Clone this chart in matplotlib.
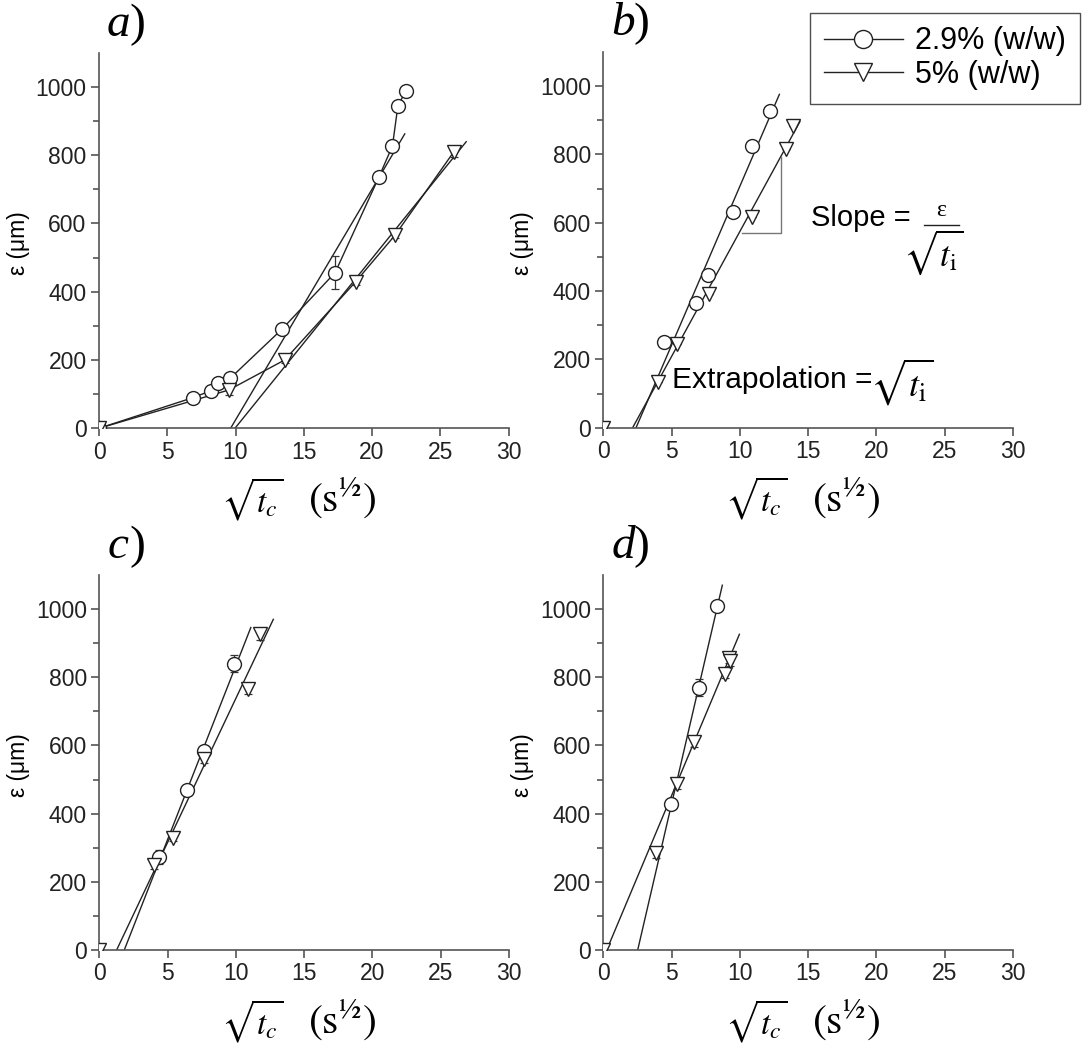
import numpy as np
import matplotlib
matplotlib.use("Agg")
import matplotlib.pyplot as plt
from matplotlib.lines import Line2D

plt.rcParams['font.family'] = ['Liberation Sans', 'DejaVu Sans']
plt.rcParams['mathtext.fontset'] = 'stix'

W, H = 1092, 1053

# ---------------- data ----------------
# panel a
a_c_x = [0.0, 6.9, 8.2, 8.7, 9.6, 13.4, 17.3, 20.5, 21.5, 21.9, 22.5]
a_c_y = [0, 90, 110, 132, 146, 290, 456, 735, 827, 945, 989]
a_c_e = [0, 0, 0, 0, 0, 0, 48, 10, 12, 0, 0]
a_t_x = [0.0, 9.5, 13.6, 18.8, 21.7, 26.0]
a_t_y = [0, 112, 200, 429, 566, 810]
a_t_e = [0, 14, 10, 10, 10, 15]
a_fit_c_x = [9.64, 22.4]
a_fit_c_y = [0, 862]
a_fit_t_x = [9.96, 26.9]
a_fit_t_y = [0, 839]

# panel b
b_c_x = [4.45, 6.8, 7.7, 9.5, 10.9, 12.2]
b_c_y = [252, 366, 448, 633, 825, 928]
b_c_e = [12, 8, 14, 0, 0, 14]
b_t_x = [4.0, 5.4, 7.77, 10.9, 13.4, 13.9]
b_t_y = [135, 245, 391, 616, 815, 883]
b_t_e = [0, 0, 0, 0, 0, 0]
b_fit_c_x = [2.4, 12.9]
b_fit_c_y = [0, 976]
b_fit_t_x = [2.15, 14.4]
b_fit_t_y = [0, 896]
b_slope_x = [10.15, 13.03, 13.03]
b_slope_y = [571, 571, 793]

# panel c
c_c_x = [4.4, 6.4, 7.7, 9.9]
c_c_y = [273, 470, 584, 840]
c_c_e = [20, 0, 12, 25]
c_t_x = [4.0, 5.4, 7.7, 10.9, 11.8]
c_t_y = [249, 330, 559, 767, 926]
c_t_e = [10, 10, 10, 15, 18]
c_fit_c_x = [1.83, 11.1]
c_fit_c_y = [0, 946]
c_fit_t_x = [1.27, 12.75]
c_fit_t_y = [0, 970]

# panel d
d_c_x = [4.96, 7.04, 8.3]
d_c_y = [428, 770, 1010]
d_c_e = [10, 25, 10]
d_t_x = [3.86, 5.43, 6.68, 8.95, 9.2, 9.3]
d_t_y = [285, 487, 611, 809, 857, 848]
d_t_e = [15, 15, 15, 12, 15, 15]
d_fit_c_x = [2.52, 8.72]
d_fit_c_y = [0, 1070]
d_fit_t_x = [0.25, 9.97]
d_fit_t_y = [0, 926]

x_ticks = [0, 5, 10, 15, 20, 25, 30]
y_ticks = [0, 200, 400, 600, 800, 1000]
panel_labels = ['a', 'b', 'c', 'd']
legend_labels = ['2.9% (w/w)', '5% (w/w)']

# ---------------- figure ----------------
fig = plt.figure(figsize=(W / 100, H / 100), dpi=100)

def rect(l, r, b, t):
    return [l / W, 1 - b / H, (r - l) / W, (b - t) / H]

axes_px = [(99, 508.5, 428.3, 52.6), (603.3, 1012.8, 427.7, 52.0),
           (99.3, 508.8, 950, 575), (603.3, 1012.8, 950, 575)]

spine_col = '#555555'
axs = []
for (l, r, b, t) in axes_px:
    ax = fig.add_axes(rect(l, r, b, t))
    ax.set_xlim(0, 30)
    ax.set_ylim(0, 1100)
    ax.set_xticks(x_ticks)
    ax.set_yticks(y_ticks)
    ax.set_yticks(np.arange(100, 1100, 200), minor=True)
    for s in ['top', 'right']:
        ax.spines[s].set_visible(False)
    for s in ['left', 'bottom']:
        ax.spines[s].set_color(spine_col)
        ax.spines[s].set_linewidth(1.2)
    ax.tick_params(which='major', direction='out', length=6, width=1.2,
                   color=spine_col, labelsize=16.5, labelcolor='#222222', pad=3)
    ax.tick_params(which='minor', direction='out', length=4, width=1.2,
                   color=spine_col)
    axs.append(ax)

mk = dict(markersize=10, markerfacecolor='white', markeredgecolor='#222222',
          markeredgewidth=1.0)

def markers(ax, x, y, e, m):
    ax.errorbar(x, y, yerr=e, fmt='none', ecolor='#333333', elinewidth=0.9,
                capsize=3, capthick=0.9, zorder=3)
    ax.plot(x, y, linestyle='none', marker=m, zorder=4, **mk)

def fit(ax, x, y):
    ax.plot(x, y, color='#222222', lw=1.0, zorder=2)

# panel a
ax = axs[0]
ax.plot(a_c_x, a_c_y, color='#222222', lw=1.0, zorder=2)
ax.plot(a_t_x, a_t_y, color='#222222', lw=1.0, zorder=2)
fit(ax, a_fit_c_x, a_fit_c_y)
fit(ax, a_fit_t_x, a_fit_t_y)
markers(ax, a_c_x, a_c_y, a_c_e, 'o')
markers(ax, a_t_x, a_t_y, a_t_e, 'v')

# panel b
ax = axs[1]
fit(ax, b_fit_c_x, b_fit_c_y)
fit(ax, b_fit_t_x, b_fit_t_y)
ax.plot(b_slope_x, b_slope_y, color='#777777', lw=1.0, zorder=2)
markers(ax, b_c_x, b_c_y, b_c_e, 'o')
markers(ax, b_t_x, b_t_y, b_t_e, 'v')
ax.plot([0], [0], linestyle='none', marker='v', zorder=4, **mk)

# panel c
ax = axs[2]
fit(ax, c_fit_c_x, c_fit_c_y)
fit(ax, c_fit_t_x, c_fit_t_y)
markers(ax, c_c_x, c_c_y, c_c_e, 'o')
markers(ax, c_t_x, c_t_y, c_t_e, 'v')
ax.plot([0], [0], linestyle='none', marker='v', zorder=4, **mk)

# panel d
ax = axs[3]
fit(ax, d_fit_c_x, d_fit_c_y)
fit(ax, d_fit_t_x, d_fit_t_y)
markers(ax, d_c_x, d_c_y, d_c_e, 'o')
markers(ax, d_t_x, d_t_y, d_t_e, 'v')
ax.plot([0], [0], linestyle='none', marker='v', zorder=4, **mk)

# labels
xl_root = r'$\sqrt{t_c}$'
xl_unit = r'$(\mathrm{s}^{' + '\u00bd' + r'})$'
for i, (l, r, b, t) in enumerate(axes_px):
    fig.text((l + 153) / W, 1 - (b + 71) / H, xl_root, fontsize=24,
             ha='center', va='center')
    fig.text((l + 243) / W, 1 - (b + 70) / H, xl_unit, fontsize=30,
             ha='center', va='center')
    fig.text((l - 81) / W, 1 - ((b + t) / 2 + 3) / H, 'ε (μm)', fontsize=16.5,
             rotation=90, ha='center', va='center')
    fig.text((l + 8) / W, 1 - (t - 28) / H, panel_labels[i], fontsize=34,
             family='Liberation Serif', style='italic', ha='left',
             va='center')
    fig.text((l + 30) / W, 1 - (t - 28) / H, ')', fontsize=34,
             family='Liberation Serif', ha='left', va='center')

# annotations in panel b
fig.text(811 / W, 1 - 218 / H, 'Slope = ', fontsize=21, ha='left', va='center')
fig.text(941 / W, 1 - 211 / H, 'ε', fontsize=17, family='Liberation Serif',
         ha='center', va='center')
fig.add_artist(Line2D([924 / W, 959 / W], [1 - 225 / H, 1 - 225 / H],
                      color='#222222', lw=1.0))
fig.text(933 / W, 1 - 252 / H, r'$\sqrt{t_\mathrm{i}}$', fontsize=25,
         ha='center', va='center')
fig.text(672 / W, 1 - 380 / H, 'Extrapolation =', fontsize=21.5, ha='left',
         va='center')
fig.text(870 / W, 1 - 382 / H, r'$\sqrt{t_\mathrm{i}}$', fontsize=26,
         ha='left', va='center')

# legend
lmk = dict(mk)
lmk['markersize'] = 13
handles = [Line2D([], [], color='#222222', lw=1.0, marker='o', **lmk),
           Line2D([], [], color='#222222', lw=1.0, marker='v', **lmk)]
leg = fig.legend(handles, legend_labels, loc='upper left',
                 bbox_to_anchor=(810 / W, 1 - 12.7 / H), fontsize=22,
                 frameon=True, fancybox=False, edgecolor='#222222',
                 handlelength=2.6, handletextpad=0.4, borderpad=0.45,
                 labelspacing=0.12, borderaxespad=0)
leg.get_frame().set_linewidth(1.0)

fig.savefig('out.png', dpi=100)
